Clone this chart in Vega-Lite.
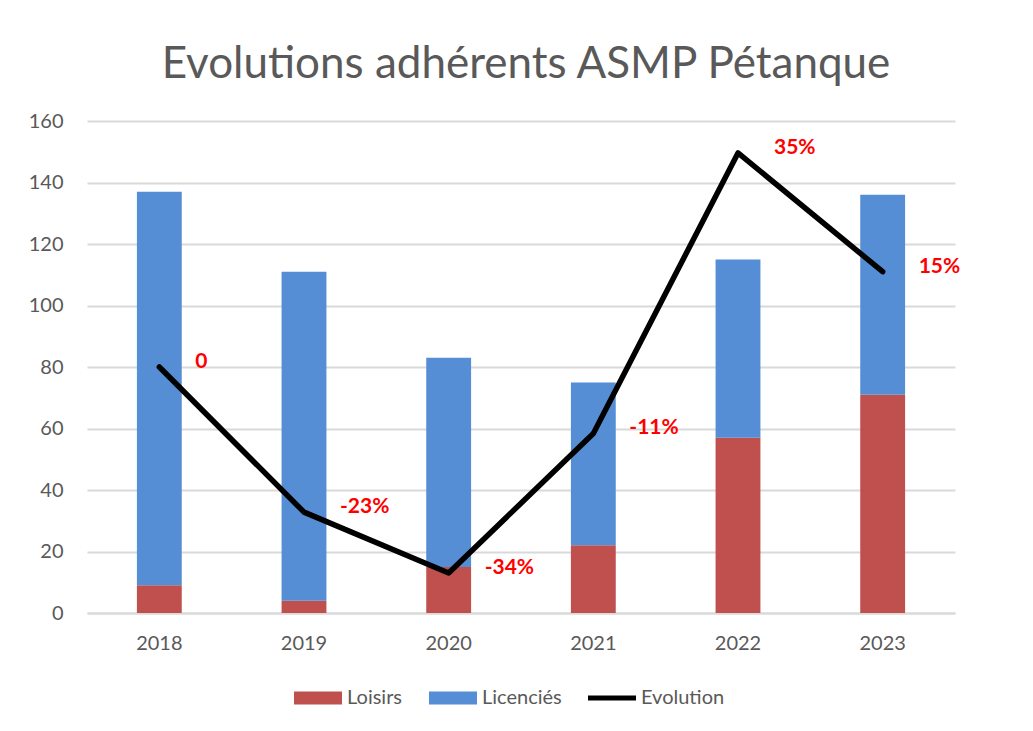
{
  "$schema": "https://vega.github.io/schema/vega-lite/v6.json",
  "autosize": {"type": "none"},
  "width": 868,
  "height": 492,
  "padding": {"left": 87, "top": 121, "right": 78, "bottom": 118},
  "background": "white",
  "config": {
    "view": {"stroke": null},
    "font": "Lato",
    "axis": {"labelFont": "Lato", "labelColor": "#595959", "labelFontSize": 20, "ticks": false, "title": null}
  },
  "title": {
    "text": "Evolutions adhérents ASMP Pétanque",
    "font": "Lato",
    "fontSize": 44,
    "fontWeight": "normal",
    "color": "#595959",
    "anchor": "middle",
    "dx": 5,
    "offset": 24
  },
  "layer": [
    {
      "data": {
        "values": [
          {"year": "2018", "type": "Loisirs", "count": 9},
          {"year": "2018", "type": "Licenciés", "count": 128},
          {"year": "2019", "type": "Loisirs", "count": 4},
          {"year": "2019", "type": "Licenciés", "count": 107},
          {"year": "2020", "type": "Loisirs", "count": 15},
          {"year": "2020", "type": "Licenciés", "count": 68},
          {"year": "2021", "type": "Loisirs", "count": 22},
          {"year": "2021", "type": "Licenciés", "count": 53},
          {"year": "2022", "type": "Loisirs", "count": 57},
          {"year": "2022", "type": "Licenciés", "count": 58},
          {"year": "2023", "type": "Loisirs", "count": 71},
          {"year": "2023", "type": "Licenciés", "count": 65}
        ]
      },
      "mark": {"type": "bar"},
      "encoding": {
        "x": {
          "field": "year", "type": "ordinal",
          "scale": {"paddingInner": 0.69, "paddingOuter": 0.345},
          "axis": {"labelAngle": 0, "labelPadding": 20, "domain": true, "domainColor": "#D9D9D9", "domainWidth": 2, "grid": false}
        },
        "y": {
          "field": "count", "type": "quantitative", "stack": "zero",
          "scale": {"domain": [0, 160]},
          "axis": {"values": [0, 20, 40, 60, 80, 100, 120, 140, 160], "domain": false, "grid": true, "gridColor": "#D9D9D9", "gridWidth": 2, "labelPadding": 24}
        },
        "color": {
          "field": "type", "type": "nominal",
          "scale": {"domain": ["Loisirs", "Licenciés", "Evolution"], "range": ["#C0504D", "#558ED5", "#000000"]},
          "legend": {
            "title": null,
            "orient": "none",
            "legendX": 207,
            "legendY": 553,
            "direction": "horizontal",
            "labelFont": "Lato",
            "labelFontSize": 20,
            "labelColor": "#595959",
            "labelOffset": 5,
            "columnPadding": 26,
            "symbolSize": 2304,
            "symbolStrokeWidth": 0,
            "encode": {
              "symbols": {
                "update": {
                  "shape": {"signal": "datum.value === 'Evolution' ? 'M-1,-0.1H1V0.1H-1Z' : 'M-1,-0.27H1V0.27H-1Z'"}
                }
              }
            }
          }
        },
        "order": {"field": "type", "sort": "descending"}
      }
    },
    {
      "data": {
        "values": [
          {"year": "2018", "evolution": 0.0, "label": "0"},
          {"year": "2019", "evolution": -0.236, "label": "-23%"},
          {"year": "2020", "evolution": -0.335, "label": "-34%"},
          {"year": "2021", "evolution": -0.108, "label": "-11%"},
          {"year": "2022", "evolution": 0.348, "label": "35%"},
          {"year": "2023", "evolution": 0.155, "label": "15%"}
        ]
      },
      "encoding": {
        "x": {"field": "year", "type": "ordinal"},
        "y": {"field": "evolution", "type": "quantitative", "scale": {"domain": [-0.4, 0.4]}, "axis": null}
      },
      "layer": [
        {"mark": {"type": "line", "color": "#000000", "strokeWidth": 5.5, "strokeCap": "round", "strokeJoin": "round"}},
        {"mark": {"type": "text", "color": "#FF0000", "font": "Lato", "fontWeight": "bold", "fontSize": 21, "align": "left", "baseline": "middle", "dx": 36, "dy": -5}, "encoding": {"text": {"field": "label"}}}
      ]
    }
  ],
  "resolve": {"scale": {"y": "independent"}}
}
